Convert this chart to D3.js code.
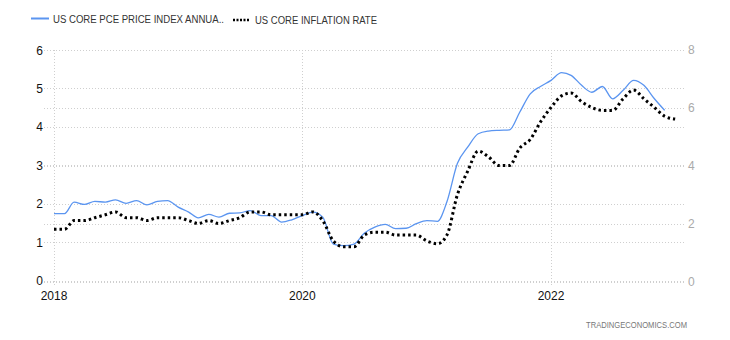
<!DOCTYPE html>
<html><head><meta charset="utf-8">
<script src="https://cdn.jsdelivr.net/npm/d3@7"></script>
<style>body{margin:0;background:#fff;}svg{display:block;font-family:Arial,"Liberation Sans",sans-serif;}</style>
</head><body><svg id="c" width="730" height="340"></svg>
<script>
const startYear = 2018;
const pceValues = [1.74,1.74,2.04,1.98,2.06,2.04,2.10,2.01,2.08,1.97,2.06,2.08,
  1.91,1.78,1.63,1.72,1.65,1.75,1.76,1.82,1.69,1.69,1.52,1.58,
  1.69,1.78,1.65,0.95,0.91,0.95,1.23,1.39,1.46,1.35,1.36,1.48,
  1.56,1.54,2.05,3.05,3.47,3.82,3.89,3.91,3.92,4.38,4.86,5.05,
  5.21,5.41,5.34,5.08,4.90,5.05,4.73,4.95,5.21,5.08,4.73,4.43];
const coreCpiValues = [1.8,1.8,2.1,2.1,2.2,2.3,2.4,2.2,2.2,2.1,2.2,2.2,
  2.2,2.1,2.0,2.1,2.0,2.1,2.2,2.4,2.4,2.3,2.3,2.3,
  2.3,2.4,2.1,1.4,1.2,1.2,1.6,1.7,1.7,1.6,1.6,1.6,
  1.4,1.3,1.6,3.0,3.8,4.5,4.3,4.0,4.0,4.6,4.9,5.5,
  6.0,6.4,6.5,6.2,6.0,5.9,5.9,6.3,6.6,6.3,6.0,5.7,
  5.6];
const leftTicks = [0,1,2,3,4,5,6];
const rightTicks = [0,2,4,6,8];
const xTickYears = [2018,2020,2022];
const seriesNames = ["US CORE PCE PRICE INDEX ANNUA..","US CORE INFLATION RATE"];

const svg = d3.select("#c");
const x = d3.scaleTime().domain([new Date(2018,0,1), new Date(2022,0,1)]).range([54,551]);
const yL = d3.scaleLinear().domain([0,6]).range([280.5,50]);
const yR = d3.scaleLinear().domain([0,8]).range([281.5,49.5]);
const date = i => new Date(startYear, i, 1);

// gridlines
const grid = svg.append("g");
leftTicks.forEach(t => grid.append("line").attr("x1",44).attr("x2",685)
  .attr("y1",Math.round(yL(t))+0.5).attr("y2",Math.round(yL(t))+0.5)
  .attr("stroke","#cfcfcf").attr("stroke-dasharray","1,2"));
rightTicks.forEach(t => grid.append("line").attr("x1",44).attr("x2",685)
  .attr("y1",Math.round(yR(t))+0.5).attr("y2",Math.round(yR(t))+0.5)
  .attr("stroke","#cfcfcf").attr("stroke-dasharray","1,2"));
xTickYears.forEach(yr => grid.append("line")
  .attr("x1",Math.round(x(new Date(yr,0,1)))+0.5).attr("x2",Math.round(x(new Date(yr,0,1)))+0.5)
  .attr("y1",50).attr("y2",287)
  .attr("stroke","#cfcfcf").attr("stroke-dasharray","1,2"));

// axes labels
svg.append("g").selectAll("text").data(leftTicks).join("text")
  .attr("x",43).attr("y",d=>yL(d)+4.5).attr("text-anchor","end")
  .attr("font-size",12).attr("fill","#111").text(d=>d);
svg.append("g").selectAll("text").data(rightTicks).join("text")
  .attr("x",688).attr("y",d=>yR(d)+4.5).attr("text-anchor","start")
  .attr("font-size",12).attr("fill","#aaa").text(d=>d);
svg.append("g").selectAll("text").data(xTickYears).join("text")
  .attr("x",d=>x(new Date(d,0,1))).attr("y",300).attr("text-anchor","middle")
  .attr("font-size",12).attr("fill","#111").text(d=>d);

// lines
const lineL = d3.line().x((d,i)=>x(date(i))).y(d=>yL(d)).curve(d3.curveMonotoneX);
const lineR = d3.line().x((d,i)=>x(date(i))).y(d=>yR(d)).curve(d3.curveMonotoneX);
svg.append("path").attr("d",lineL(pceValues)).attr("fill","none")
  .attr("stroke","#5b95f0").attr("stroke-width",1.3);
svg.append("path").attr("d",lineR(coreCpiValues)).attr("fill","none")
  .attr("stroke","#000").attr("stroke-width",3).attr("stroke-dasharray","2.5,3");

// legend
const lg = svg.append("g");
lg.append("line").attr("x1",31).attr("x2",49).attr("y1",18.5).attr("y2",18.5)
  .attr("stroke","#5b95f0").attr("stroke-width",2);
lg.append("text").attr("x",53).attr("y",22.5).attr("font-size",10).attr("fill","#333")
  .attr("textLength",171).attr("lengthAdjust","spacingAndGlyphs").text(seriesNames[0]);
lg.append("line").attr("x1",233).attr("x2",250).attr("y1",20).attr("y2",20)
  .attr("stroke","#000").attr("stroke-width",2.5).attr("stroke-dasharray","2,1.5");
lg.append("text").attr("x",255).attr("y",23.5).attr("font-size",10).attr("fill","#333")
  .attr("textLength",122).attr("lengthAdjust","spacingAndGlyphs").text(seriesNames[1]);

svg.append("text").attr("x",586).attr("y",328).attr("text-anchor","start")
  .attr("font-size",8.5).attr("fill","#777")
  .attr("textLength",101).attr("lengthAdjust","spacingAndGlyphs").text("TRADINGECONOMICS.COM");
</script></body></html>
